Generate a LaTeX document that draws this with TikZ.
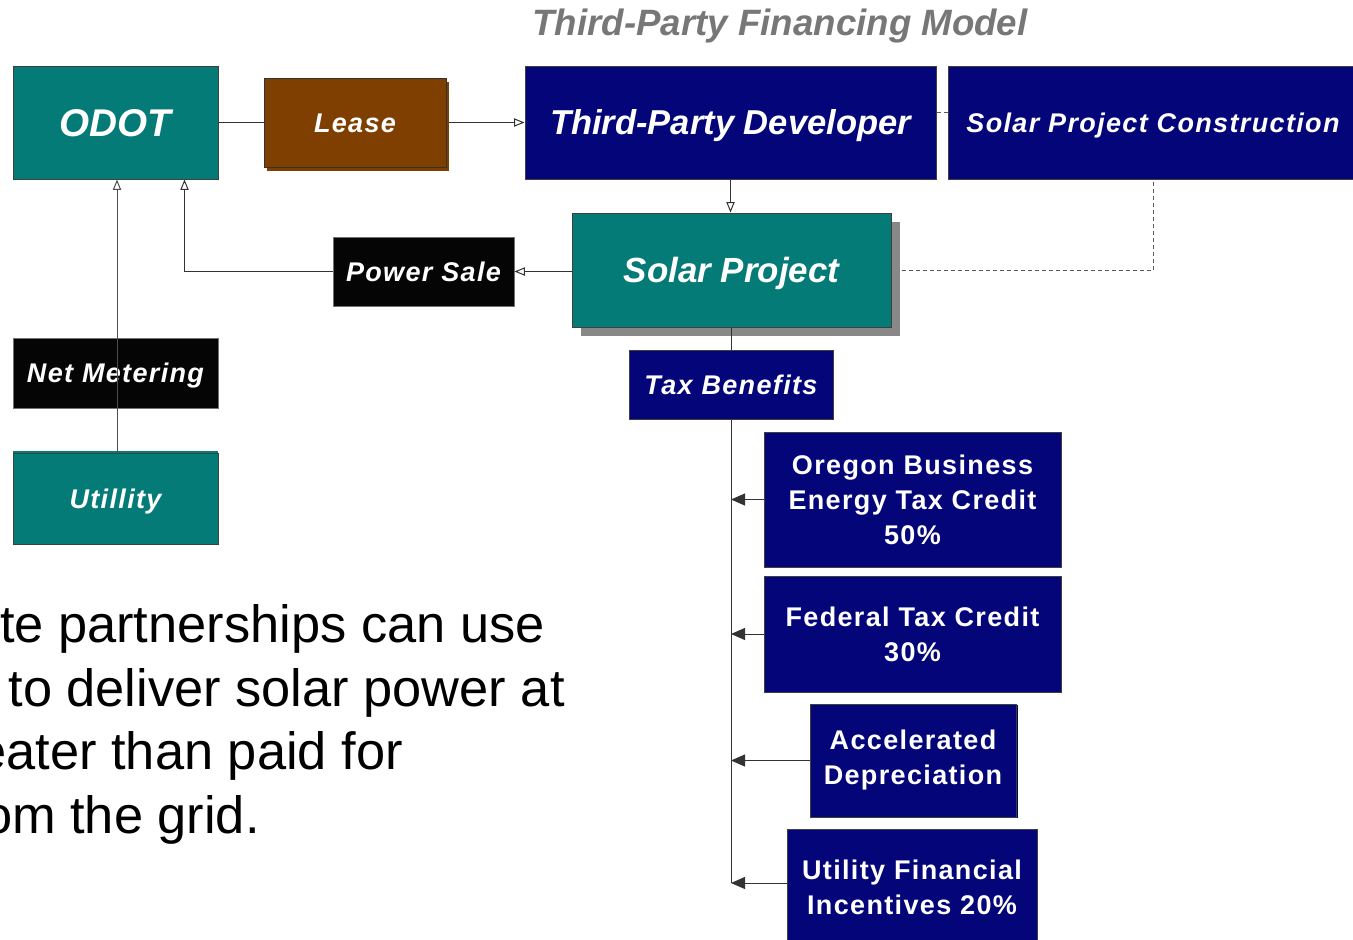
\documentclass[tikz,border=0pt]{standalone}
\usepackage{fontspec}
\setmainfont{Liberation Sans}
\newfontfamily\trk[LetterSpace=5]{Liberation Sans}
\usetikzlibrary{arrows.meta,shadows}
\newdimen\px \px=0.75pt
\definecolor{tealbox}{HTML}{057B78}
\definecolor{navybox}{HTML}{05057A}
\definecolor{brownbox}{HTML}{7F3F00}
\definecolor{blackbox}{HTML}{050505}
\definecolor{shadowgray}{HTML}{888888}
\definecolor{titlegray}{HTML}{777777}
\newcommand\labfont{\trk\bfseries\itshape\fontsize{20.25pt}{24pt}\selectfont}
\newcommand\taxfont{\trk\bfseries\fontsize{20.25pt}{26.25pt}\selectfont}
\newcommand\bigfont[1]{\bfseries\itshape\fontsize{#1}{1.2\dimexpr#1\relax}\selectfont}
\begin{document}
\begin{tikzpicture}[x=0.75pt,y=-0.75pt,
  box/.style={draw=black!75, line width=0.75pt, inner sep=0pt, text=white, align=center},
  one/.style={text height=#1, text depth=0pt},
  one/.default=14.5pt,
  sz/.style 2 args={minimum width=#1\px, minimum height=#2\px},
  conn/.style={draw=black!80, line width=0.75pt},
  opentip/.style={conn, -{Triangle[open, length=7.8pt, width=6.2pt]}},
  filltip/.style={conn, -{Triangle[length=10.5pt, width=9pt]}},
  dashline/.style={draw=black!65, line width=0.75pt, dash pattern=on 4\px off 3\px}]
\useasboundingbox (0,0) rectangle (1353,939);

% title
\node[text=titlegray, font=\bigfont{27.5pt}, one=19.7pt] (title) at (780,22.5) {Third-Party Financing Model};

% top row
\node[box, one=20.8pt, fill=tealbox, sz={205}{113}, font=\bigfont{29pt}] (odot) at (115.5,122.5) {ODOT};
\node[box, one, fill=brownbox, draw=black!80, sz={182}{89}, font=\labfont,
  drop shadow={shadow xshift=2.5\px, shadow yshift=-3.5\px, fill=brownbox, opacity=1}] (lease) at (355,122.5) {Lease};
\node[box, one=18.5pt, fill=navybox, sz={411}{113}, font=\bigfont{25.9pt}] (tpd) at (730.5,122.5) {Third-Party Developer};
\node[box, one, fill=navybox, sz={410}{113}, font=\labfont] (spc) at (1153,122.5) {Solar Project Construction};

% middle row
\node[box, one=18.8pt, fill=tealbox, sz={319}{114}, font=\bigfont{26.2pt},
  drop shadow={shadow xshift=9\px, shadow yshift=-9\px, fill=shadowgray, opacity=1}] (solar) at (731.5,270) {Solar Project};
\node[box, one, fill=blackbox, draw=black!55, sz={181}{69}, font=\labfont] (psale) at (423.5,271.5) {Power Sale};

% left column
\node[box, one, fill=blackbox, draw=black!55, sz={205}{70}, font=\labfont] (netm) at (115.5,373) {Net Metering};
\node[box, one, fill=tealbox, sz={205}{91}, font=\labfont,
  drop shadow={shadow xshift=0pt, shadow yshift=2.5\px, fill=tealbox, opacity=1}] (util) at (115.5,498.5) {Utillity};

% tax benefits
\node[box, one, fill=navybox, sz={204}{69}, font=\labfont] (tax) at (731,384.5) {Tax Benefits};
\node[box, fill=navybox, sz={297}{135}, font=\taxfont] (oregon) at (912.5,499.5) {Oregon Business\\Energy Tax Credit\\50\%};
\node[box, fill=navybox, sz={297}{116}, font=\taxfont] (federal) at (912.5,634) {Federal Tax Credit\\30\%};
\node[box, fill=navybox, sz={206}{113}, font=\taxfont,
  drop shadow={shadow xshift=2\px, shadow yshift=-1\px, fill=navybox!70!black, opacity=1}] (accel) at (913,760.5) {Accelerated\\Depreciation};
\node[box, fill=navybox, sz={250}{116}, font=\taxfont] (ufi) at (912,887) {Utility Financial\\Incentives 20\%};

% body text
\begin{scope}[every node/.style={font=\fontsize{39.3pt}{48pt}\selectfont, text=black, inner sep=0pt, anchor=base east}]
\node (body1) at (545,642) {te partnerships can use};
\node (body2) at (565,706) {to deliver solar power at};
\node (body3) at (403,769) {eater than paid for};
\node (body4) at (260,833) {om the grid.};
\end{scope}

% connectors
\draw[conn] (odot.east) -- (lease.west);
\draw[opentip] ([xshift=2.5\px]lease.east) -- (tpd.west);
\draw[opentip] (tpd.south) -- (tpd.south |- solar.north);
\draw[opentip] (solar.west |- psale.east) -- (psale.east);
\draw[opentip] (psale.west) -| ([xshift=-34\px]odot.south east);
\draw[opentip, draw=black!70] ([xshift=1.5\px]util.north) -- ([xshift=1.5\px]odot.south);
\draw[dashline] ([yshift=10.5\px]tpd.east) -- ([yshift=10.5\px]spc.west);
\draw[dashline] ([xshift=10\px]solar.east) -| (spc.south);

\coordinate (tend) at (731,883);
\draw[conn] (solar.south -| tax.north) -- (tax.north);
\draw[conn] (tax.south) -- (tend);
\draw[filltip] (oregon.west) -- (oregon.west -| tax.south);
\draw[filltip] (federal.west) -- (federal.west -| tax.south);
\draw[filltip] (accel.west) -- (accel.west -| tax.south);
\draw[filltip] (ufi.west |- tend) -- (tend);
\end{tikzpicture}
\end{document}
